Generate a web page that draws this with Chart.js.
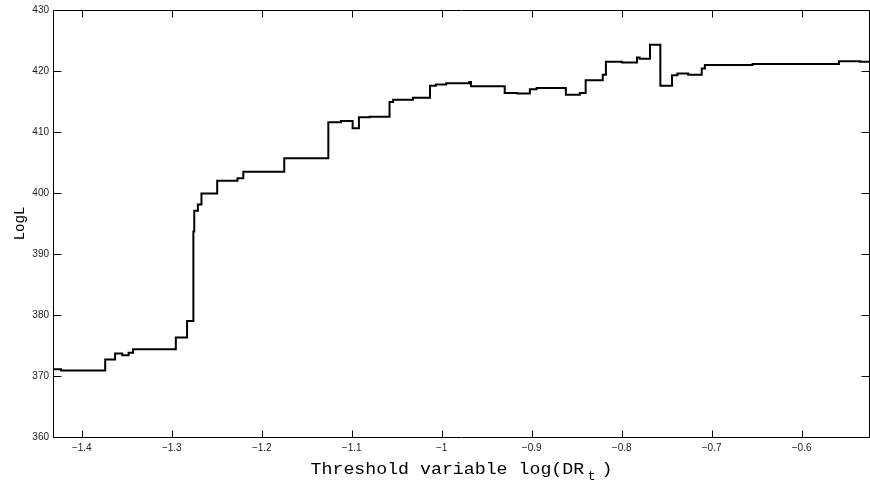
<!DOCTYPE html>
<html>
<head>
<meta charset="utf-8">
<title>LogL vs threshold</title>
<script src="https://cdn.jsdelivr.net/npm/chart.js@4.4.1/dist/chart.umd.min.js"></script>
<style>
  html, body { margin: 0; padding: 0; background: #fff; }
  canvas { display: block; }
</style>
</head>
<body>
<canvas id="logLChart" width="870" height="487"></canvas>
<script>
// threshold value where each step starts
const thresholds = [-1.432, -1.423, -1.374, -1.363, -1.355, -1.348, -1.343, -1.2955, -1.283, -1.276,
  -1.275, -1.271, -1.267, -1.2495, -1.227, -1.2205, -1.175, -1.126, -1.112, -1.099,
  -1.092, -1.080, -1.058, -1.054, -1.032, -1.013, -1.0065, -0.995, -0.9695, -0.9675,
  -0.930, -0.916, -0.902, -0.8945, -0.862, -0.8465, -0.840, -0.821, -0.8175, -0.7995,
  -0.783, -0.780, -0.7685, -0.757, -0.744, -0.738, -0.726, -0.711, -0.7075, -0.6545,
  -0.5585, -0.535, -0.524];

// LogL level of each step
const logL = [371.1, 370.9, 372.7, 373.7, 373.4, 373.8, 374.4, 376.3, 379.0, 393.7,
  397.1, 398.1, 399.9, 402.0, 402.4, 403.5, 405.7, 411.6, 411.8, 410.6,
  412.4, 412.5, 414.9, 415.3, 415.6, 417.6, 417.8, 418.0, 418.2, 417.5,
  416.4, 416.3, 417.0, 417.2, 416.1, 416.4, 418.5, 419.4, 421.5, 421.4,
  422.2, 422.0, 424.3, 417.6, 419.3, 419.6, 419.4, 420.4, 421.0, 421.15,
  421.6, 421.5, 421.5];

const xTicks = [-1.4, -1.3, -1.2, -1.1, -1.0, -0.9, -0.8, -0.7, -0.6];
const yTicks = [360, 370, 380, 390, 400, 410, 420, 430];

const points = thresholds.map((t, i) => ({ x: t, y: logL[i] }));

// MATLAB style box with ticks pointing inwards, plus axis titles
const boxPlugin = {
  id: "boxPlugin",
  afterDraw(chart) {
    const ctx = chart.ctx;
    const a = chart.chartArea;
    const xs = chart.scales.x;
    const ys = chart.scales.y;
    const L = Math.round(a.left) + 0.5, R = Math.round(a.right) - 0.5;
    const T = Math.round(a.top) + 0.5, B = Math.round(a.bottom) + 0.5;

    ctx.save();
    ctx.strokeStyle = "#000";
    ctx.lineWidth = 1;
    ctx.beginPath();
    ctx.rect(L, T, R - L, B - T);

    xs.ticks.forEach(t => {
      const px = Math.round(xs.getPixelForValue(t.value)) + 0.5;
      ctx.moveTo(px, B); ctx.lineTo(px, B - 7);
      ctx.moveTo(px, T); ctx.lineTo(px, T + 7);
    });
    ys.ticks.forEach(t => {
      const py = Math.round(ys.getPixelForValue(t.value)) + 0.5;
      ctx.moveTo(L, py); ctx.lineTo(L + 8, py);
      ctx.moveTo(R, py); ctx.lineTo(R - 8, py);
    });
    ctx.stroke();

    // x title with subscript t
    ctx.fillStyle = "#000";
    ctx.textBaseline = "alphabetic";
    ctx.textAlign = "left";
    const big = "16px 'Liberation Mono', monospace";
    const small = "12px 'Liberation Mono', monospace";
    const main = "Threshold variable log(DR";
    ctx.font = big;
    const wMain = ctx.measureText(main).width;
    const wEnd = ctx.measureText(")").width;
    ctx.font = small;
    const wSub = ctx.measureText("t").width + 5;
    const sx = 1.14;
    const total = (wMain + wSub + wEnd + 3) * sx;
    const cx = (a.left + a.right) / 2;
    ctx.translate(cx - total / 2, 474);
    ctx.scale(sx, 1);
    ctx.font = big;
    ctx.fillText(main, 0, 0);
    ctx.font = small;
    ctx.fillText("t", wMain + 3, 6);
    ctx.font = big;
    ctx.fillText(")", wMain + wSub + 3, 0);
    ctx.restore();

    // y title
    ctx.save();
    ctx.fillStyle = "#000";
    ctx.font = "14px 'Liberation Mono', monospace";
    ctx.textAlign = "center";
    ctx.textBaseline = "middle";
    ctx.translate(20, (a.top + a.bottom) / 2);
    ctx.rotate(-Math.PI / 2);
    ctx.fillText("LogL", 0, 0);
    ctx.restore();
  }
};

const ctx = document.getElementById("logLChart").getContext("2d");
new Chart(ctx, {
  type: "line",
  data: {
    datasets: [{
      label: "LogL",
      data: points,
      stepped: "before",
      borderColor: "#000",
      borderWidth: 2,
      pointRadius: 0,
      fill: false
    }]
  },
  options: {
    responsive: false,
    animation: false,
    layout: { padding: { top: 7, right: 0, left: 0, bottom: 0 } },
    plugins: {
      legend: { display: false },
      tooltip: { enabled: false }
    },
    scales: {
      x: {
        type: "linear",
        min: -1.432,
        max: -0.524,
        afterBuildTicks: s => { s.ticks = xTicks.map(v => ({ value: v })); },
        afterFit: s => { s.height = 50; },
        grid: { display: false, drawTicks: false },
        border: { display: false },
        ticks: {
          padding: 5,
          color: "#222",
          font: { family: "'Liberation Sans', Arial, sans-serif", size: 10 },
          callback: v => String(+v.toFixed(1)).replace("-", "\u2212")
        }
      },
      y: {
        min: 360,
        max: 430,
        afterBuildTicks: s => { s.ticks = yTicks.map(v => ({ value: v })); },
        afterFit: s => { s.width = 53; },
        grid: { display: false, drawTicks: false },
        border: { display: false },
        ticks: {
          padding: 4,
          color: "#222",
          font: { family: "'Liberation Sans', Arial, sans-serif", size: 10 },
          callback: v => String(v)
        }
      }
    }
  },
  plugins: [boxPlugin]
});
</script>
</body>
</html>
